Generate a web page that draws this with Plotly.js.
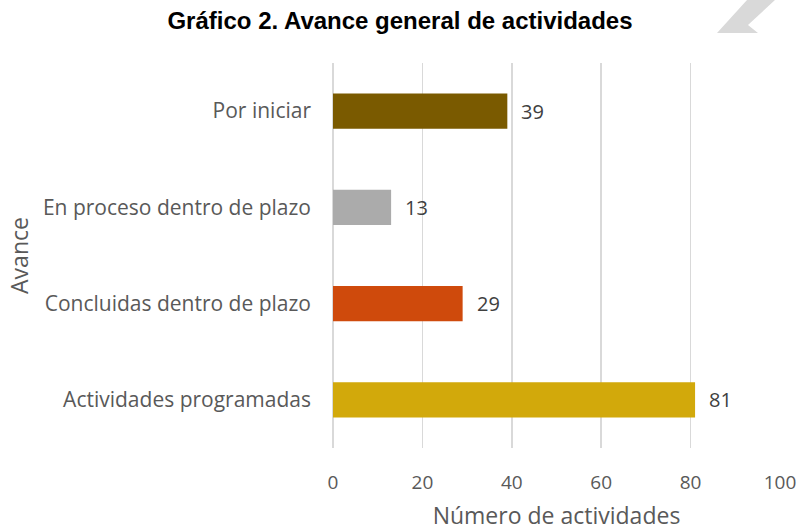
<!DOCTYPE html>
<html>
<head>
<meta charset="utf-8">
<script src="https://cdn.plot.ly/plotly-3.0.1.min.js"></script>
<style>html,body{margin:0;padding:0;background:#fff;}#chart{width:800px;height:531px;}</style>
</head>
<body>
<div id="chart"></div>
<script>
const categories = ["Actividades programadas", "Concluidas dentro de plazo", "En proceso dentro de plazo", "Por iniciar"];
const values = [81, 29, 13, 39];
const barColors = ["#D2A90B", "#CF4A0C", "#ABABAB", "#7A5A00"];
const xTicks = [0, 20, 40, 60, 80, 100];

const M = {l: 333, r: 20, t: 63, b: 83};
const W = 800, H = 531;
const pw = W - M.l - M.r, ph = H - M.t - M.b;
function px(x) { return (x - M.l) / pw; }
function py(y) { return (H - M.b - y) / ph; }
const deco = [[747,0],[775,0],[748,25],[758,33],[717,33]];
const decoPath = 'M ' + deco.map(p => px(p[0]).toFixed(4) + ',' + py(p[1]).toFixed(4)).join(' L ') + ' Z';

const bodyFont = "'Open Sans', sans-serif";

const trace = {
  type: 'bar',
  orientation: 'h',
  x: values,
  y: categories,
  marker: {color: barColors},
  width: 0.365,
  hoverinfo: 'none'
};

const annotations = values.map((v, i) => ({
  x: v, y: categories[i], xref: 'x', yref: 'y',
  text: String(v), showarrow: false, xanchor: 'left', xshift: 12,
  font: {family: bodyFont, size: 20, color: '#404040'}
}));

const layout = {
  width: W, height: H,
  margin: M,
  paper_bgcolor: '#fff', plot_bgcolor: '#fff',
  showlegend: false,
  title: {
    text: '<b>Gráfico 2. Avance general de actividades</b>',
    font: {family: "'Liberation Sans', Arial, sans-serif", size: 24, color: '#000'},
    x: 0.5, xref: 'container', xanchor: 'center',
    y: 0.961, yref: 'container', yanchor: 'middle'
  },
  xaxis: {
    range: [0, 100], tickvals: xTicks, ticktext: xTicks.map(String),
    showgrid: true, gridcolor: '#D9D9D9', gridwidth: 1.5,
    zeroline: true, zerolinecolor: '#D9D9D9', zerolinewidth: 1.5,
    showline: false, ticks: '', ticklabelstandoff: 21,
    tickfont: {family: bodyFont, size: 19, color: '#595959'},
    title: {text: 'Número de actividades', font: {family: bodyFont, size: 23, color: '#595959'}, standoff: 14},
    automargin: false, fixedrange: true
  },
  yaxis: {
    type: 'category',
    categoryorder: 'array', categoryarray: categories,
    showgrid: false, zeroline: false, showline: false, ticks: '',
    ticklabelstandoff: 21,
    tickfont: {family: bodyFont, size: 21, color: '#595959'},
    title: {text: 'Avance', font: {family: bodyFont, size: 23, color: '#595959'}, standoff: 7},
    automargin: false, fixedrange: true
  },
  shapes: [{
    type: 'path', xref: 'paper', yref: 'paper', path: decoPath,
    fillcolor: '#D9D9D9', line: {width: 0}, layer: 'above'
  }],
  annotations: annotations
};

Plotly.newPlot('chart', [trace], layout, {staticPlot: true, displayModeBar: false});
</script>
</body>
</html>
